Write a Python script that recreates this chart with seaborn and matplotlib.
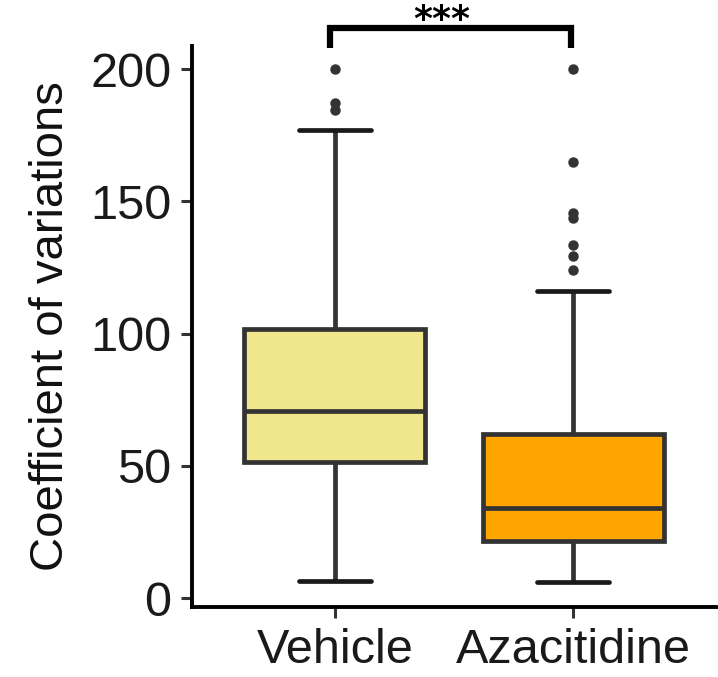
import matplotlib
matplotlib.use("Agg")
import matplotlib.pyplot as plt
import seaborn as sns
import pandas as pd

# Five-number summaries and outliers per treatment group
groups = ["Vehicle", "Azacitidine"]
whisker_low = [6.3, 6.0]
q1 = [51.4, 21.5]
median = [70.8, 34.2]
q3 = [101.8, 62.1]
whisker_high = [177.0, 116.0]
outliers = [
    [184.5, 187.0, 200.0],
    [124.2, 129.2, 133.6, 143.7, 145.5, 164.9, 200.0],
]
colors = ["#F0E68C", "#FFA500"]
yticks = [0, 50, 100, 150, 200]
significance = "***"

# Long-form table whose quartiles reproduce the summaries above
rows = []
for g, lo, a, m, b, hi, out in zip(groups, whisker_low, q1, median, q3,
                                    whisker_high, outliers):
    vals = [lo] + [a] * 10 + [m] * 10 + [b] * 10 + [hi] + list(out)
    rows += [(g, v) for v in vals]
df = pd.DataFrame(rows, columns=["group", "cv"])

sns.set_theme(style="ticks")
plt.rcParams["font.family"] = ["Liberation Sans", "DejaVu Sans"]

fig = plt.figure(figsize=(7.18, 6.77), dpi=100)
ax = fig.add_axes([0.2674, 0.1034, 0.73, 0.8286])

edge = "#333333"
sns.boxplot(
    data=df, x="group", y="cv", hue="group", order=groups, hue_order=groups,
    palette=colors, saturation=1, width=0.76, legend=False, ax=ax,
    linecolor=edge, linewidth=3.4,
    capprops=dict(color="#1a1a1a", linewidth=3.4),
    flierprops=dict(marker="o", markersize=6.5, markerfacecolor=edge,
                    markeredgecolor=edge),
    capwidths=0.3,
)

ax.set_xlim(-0.6, 1.6)
ax.set_ylim(-3.4, 208.7)
ax.set_yticks(yticks)
ax.set_xlabel("")
ax.set_ylabel("Coefficient of variations", fontsize=34, color="#111111",
              labelpad=12)
ax.tick_params(axis="both", labelsize=35, length=8, width=2.2,
               color="#333333", labelcolor="#1a1a1a", pad=7)

for side in ["top", "right"]:
    ax.spines[side].set_visible(False)
for side in ["left", "bottom"]:
    ax.spines[side].set_linewidth(2.8)
    ax.spines[side].set_color("black")

# Significance bracket between the two groups
ax.plot([-0.02, -0.02, 0.99, 0.99], [208, 215.4, 215.4, 208], color="black",
        lw=4.5, clip_on=False, solid_joinstyle="miter", solid_capstyle="butt")
ax.text(0.45, 214.8, significance, ha="center", va="baseline", fontsize=26,
        fontweight="bold", color="black", family="DejaVu Sans")

fig.savefig("out.png", dpi=100)
